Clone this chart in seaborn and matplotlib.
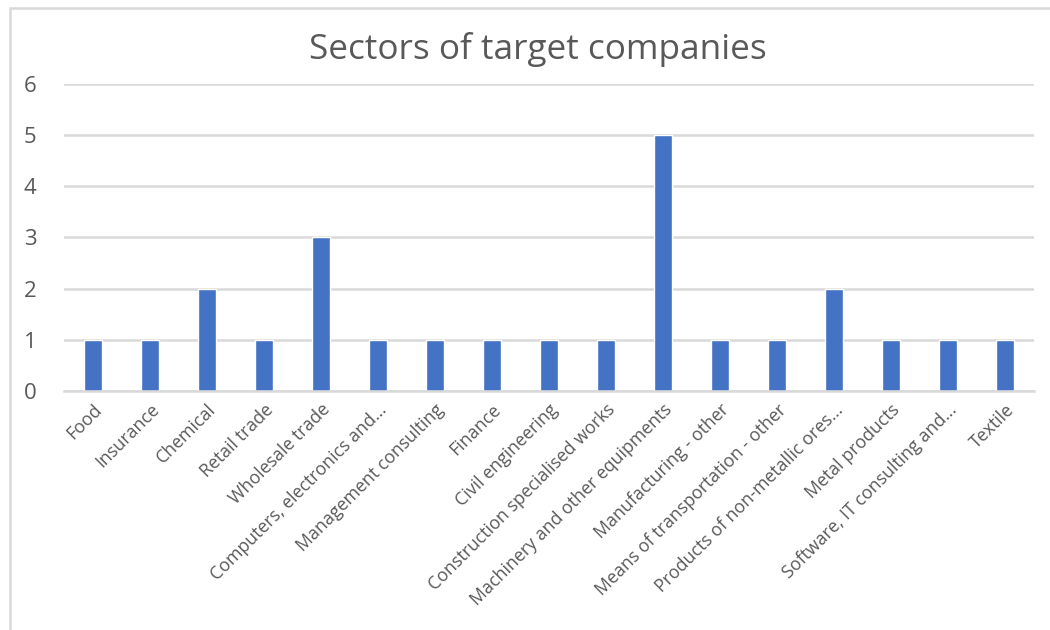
import matplotlib
matplotlib.use("Agg")
import matplotlib.pyplot as plt
import seaborn as sns
import pandas as pd
from matplotlib.patches import Rectangle

sectors = [
    "Food", "Insurance", "Chemical", "Retail trade", "Wholesale trade",
    "Computers, electronics and...", "Management consulting", "Finance",
    "Civil engineering", "Construction specialised works",
    "Machinery and other equipments", "Manufacturing - other",
    "Means of transportation - other", "Products of non-metallic ores...",
    "Metal products", "Software, IT consulting and...", "Textile",
]
counts = [1, 1, 2, 1, 3, 1, 1, 1, 1, 1, 5, 1, 1, 2, 1, 1, 1]
y_ticks = [0, 1, 2, 3, 4, 5, 6]

df = pd.DataFrame({"sector": sectors, "count": counts})

sns.set_style("white")
plt.rcParams["font.family"] = ["Open Sans", "DejaVu Sans"]

text_color = "#595959"
grid_color = "#D9D9D9"
bar_color = "#4472C4"

fig = plt.figure(figsize=(10.5, 6.3), dpi=100)
ax = fig.add_axes([0.0614, 0.3794, 0.9229, 0.4873])

sns.barplot(data=df, x="sector", y="count", color=bar_color,
            width=0.32, saturation=1, ax=ax, zorder=3)

ax.set_xlim(-0.5, len(sectors) - 0.5)
ax.set_ylim(0, 6)
ax.set_yticks(y_ticks)
ax.set_yticklabels([str(v) for v in y_ticks], fontsize=16, color=text_color)
ax.tick_params(axis="y", length=0, pad=20)
ax.tick_params(axis="x", length=0, pad=7)
ax.set_xticks(range(len(sectors)))
ax.set_xticklabels(sectors, rotation=45, ha="right", rotation_mode="anchor",
                   fontsize=12.8, color=text_color)
ax.set_xlabel("")
ax.set_ylabel("")

ax.yaxis.grid(True, color=grid_color, linewidth=1.8, zorder=0)
ax.set_axisbelow(True)
for side in ["top", "right", "left"]:
    ax.spines[side].set_visible(False)
ax.spines["bottom"].set_color(grid_color)
ax.spines["bottom"].set_linewidth(1.8)
ax.spines["bottom"].set_zorder(4)

fig.text(0.512, 0.921, "Sectors of target companies", ha="center", va="center",
         fontsize=25.3, color=text_color)

# chart frame
fig.patches.append(Rectangle((9.5 / 1050, -0.1), 1.2, 1 - 8.5 / 630 + 0.1,
                             transform=fig.transFigure, fill=False,
                             edgecolor=grid_color, linewidth=1.8))

fig.savefig("out.png", dpi=100, facecolor="white")
